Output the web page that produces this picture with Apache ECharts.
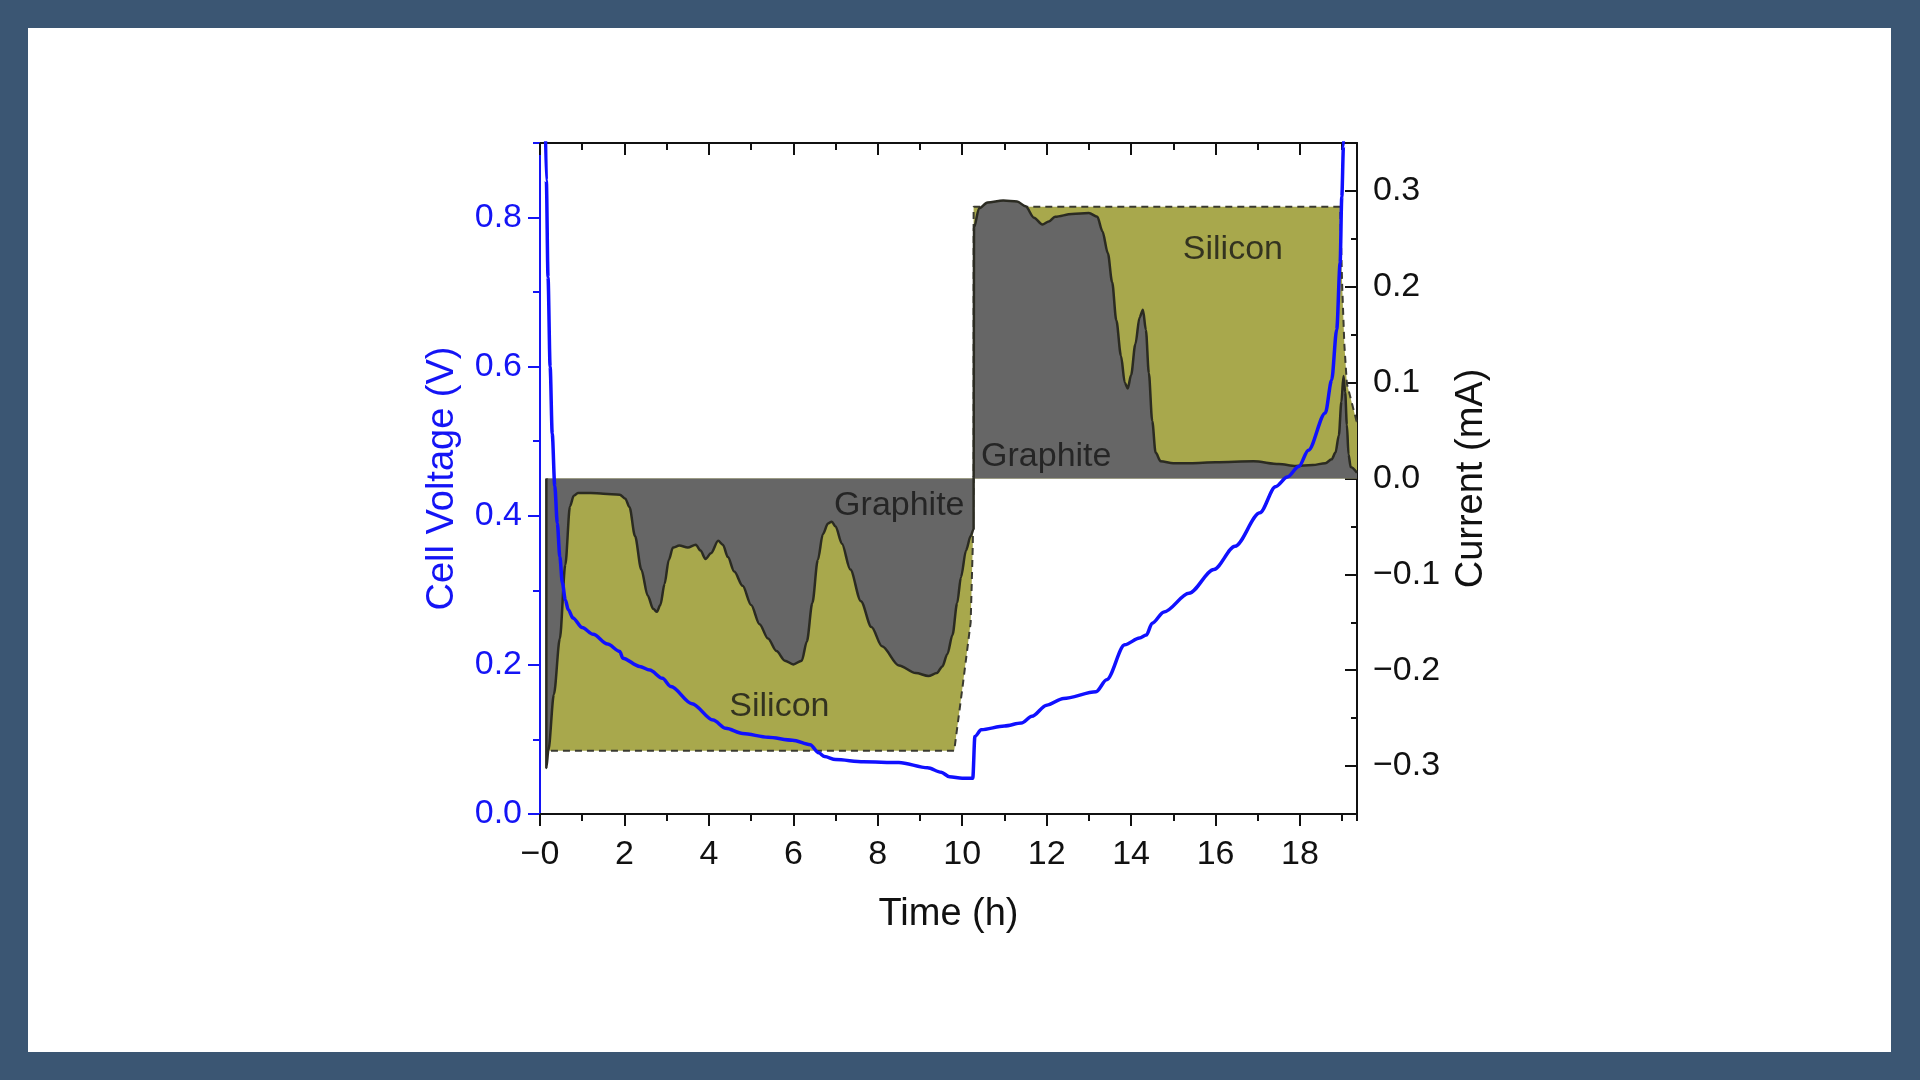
<!DOCTYPE html>
<html>
<head>
<meta charset="utf-8">
<title>Cell voltage and current</title>
<script src="https://cdn.jsdelivr.net/npm/echarts@6/dist/echarts.min.js"></script>
<style>
  html, body { margin: 0; padding: 0; background: #3b5673; }
  #panel { position: absolute; left: 28px; top: 28px; width: 1863px; height: 1024px; background: #fff; }
  #main { position: absolute; left: 0; top: 0; width: 1920px; height: 1080px; }
</style>
</head>
<body>
<div id="panel"></div>
<div id="main"></div>
<script>
// cell voltage, [time (h), V]
const voltage = [
  [0.12, 0.95], [0.15, 0.85], [0.19, 0.72], [0.24, 0.6], [0.29, 0.51], [0.35, 0.44],
  [0.41, 0.39], [0.47, 0.345], [0.53, 0.31], [0.6, 0.287], [0.67, 0.274], [0.78, 0.263],
  [1.0, 0.25], [1.26, 0.241], [1.6, 0.228], [1.89, 0.218], [1.96, 0.209], [2.36, 0.198],
  [2.6, 0.193], [2.9, 0.182], [3.1, 0.171], [3.6, 0.148], [4.1, 0.126], [4.4, 0.115],
  [4.8, 0.108], [5.4, 0.103], [5.98, 0.099], [6.4, 0.093], [6.6, 0.082], [6.74, 0.077],
  [7.0, 0.073], [7.66, 0.070], [8.5, 0.069], [9.18, 0.062], [9.5, 0.056], [9.7, 0.050],
  [10.0, 0.048], [10.25, 0.048], [10.3, 0.104], [10.45, 0.113], [11.0, 0.118], [11.4, 0.122],
  [11.65, 0.131], [12.0, 0.146], [12.4, 0.155], [13.17, 0.164], [13.42, 0.18], [13.85, 0.227],
  [14.2, 0.236], [14.36, 0.24], [14.5, 0.256], [14.78, 0.271], [15.37, 0.296], [15.96, 0.328],
  [16.46, 0.359], [17.05, 0.404], [17.42, 0.439], [17.7, 0.452], [17.97, 0.466], [18.2, 0.488],
  [18.6, 0.538], [18.75, 0.582], [18.87, 0.65], [18.95, 0.739], [18.99, 0.828], [19.03, 0.896],
  [19.05, 0.93]
]

// total current (dashed outline), [time (h), mA]
const totalCurrent = [
  [0.17, 0], [0.17, -0.284], [9.81, -0.284], [10.0, -0.22], [10.2, -0.15], [10.25, -0.07],
  [10.27, 0], [10.27, 0.2835], [18.95, 0.2835], [19.0, 0.2], [19.05, 0.14], [19.11, 0.099],
  [19.35, 0.058]
]

// graphite share of the current, [time (h), mA]
const graphiteCurrent = [
  [0.15, 0], [0.15, -0.302], [0.2, -0.283], [0.33, -0.225], [0.47, -0.167], [0.6, -0.09],
  [0.71, -0.029], [0.8, -0.018], [0.9, -0.015], [1.2, -0.015], [1.5, -0.016], [1.89, -0.017],
  [2.02, -0.021], [2.12, -0.03], [2.25, -0.06], [2.4, -0.095], [2.55, -0.122], [2.68, -0.136],
  [2.77, -0.139], [2.85, -0.132], [2.95, -0.11], [3.05, -0.085], [3.15, -0.072], [3.3, -0.07],
  [3.5, -0.072], [3.69, -0.069], [3.8, -0.075], [3.92, -0.084], [4.05, -0.078], [4.22, -0.065],
  [4.33, -0.069], [4.45, -0.082], [4.6, -0.097], [4.8, -0.112], [5.0, -0.132], [5.2, -0.152],
  [5.4, -0.167], [5.6, -0.18], [5.8, -0.19], [6.0, -0.194], [6.2, -0.19], [6.32, -0.17],
  [6.45, -0.13], [6.58, -0.085], [6.7, -0.058], [6.82, -0.047], [6.91, -0.045], [7.0, -0.05],
  [7.15, -0.068], [7.35, -0.095], [7.6, -0.128], [7.85, -0.155], [8.1, -0.175], [8.5, -0.195],
  [8.9, -0.203], [9.2, -0.206], [9.4, -0.203], [9.53, -0.196], [9.65, -0.183], [9.77, -0.163],
  [9.88, -0.13], [9.97, -0.103], [10.09, -0.075], [10.2, -0.06], [10.27, -0.053], [10.27, 0],
  [10.28, 0.262], [10.4, 0.282], [10.6, 0.288], [10.97, 0.290], [11.3, 0.289], [11.5, 0.284],
  [11.7, 0.272], [11.9, 0.265], [12.05, 0.268], [12.2, 0.273], [12.6, 0.276], [13.0, 0.277],
  [13.2, 0.273], [13.32, 0.258], [13.45, 0.235], [13.55, 0.205], [13.65, 0.165], [13.76, 0.128],
  [13.85, 0.1], [13.92, 0.094], [14.0, 0.108], [14.1, 0.14], [14.2, 0.168], [14.28, 0.176],
  [14.35, 0.155], [14.42, 0.11], [14.5, 0.06], [14.58, 0.027], [14.7, 0.018], [15.0, 0.016],
  [15.4, 0.016], [16.0, 0.017], [16.9, 0.018], [17.5, 0.015], [17.9, 0.013], [18.3, 0.014],
  [18.6, 0.016], [18.75, 0.02], [18.84, 0.027], [18.92, 0.045], [18.98, 0.08], [19.03, 0.107],
  [19.07, 0.09], [19.11, 0.056], [19.15, 0.025], [19.2, 0.012], [19.35, 0.006]
]

// region names, [time (h), mA, text]
const regionLabels = [
  [8.51, -0.028, 'Graphite'],
  [5.67, -0.238, 'Silicon'],
  [11.99, 0.023, 'Graphite'],
  [16.41, 0.239, 'Silicon']
]

const xTicks = [0, 2, 4, 6, 8, 10, 12, 14, 16, 18]
const xTickLabels = ['\u22120', '2', '4', '6', '8', '10', '12', '14', '16', '18']
const voltTicks = [0, 0.2, 0.4, 0.6, 0.8]
const currentTicks = [-0.3, -0.2, -0.1, 0, 0.1, 0.2, 0.3]

const font = 'Liberation Sans, Arial, sans-serif'
const blue = '#1414f5'
const black = '#111'

function tickStyle(color) {
  return { color: color, width: 2 }
}

const chart = echarts.init(document.getElementById('main'))

const option = {
  animation: false,
  textStyle: { fontFamily: font },
  grid: { left: 540, top: 143, width: 817, height: 671 },
  xAxis: [
    {
      type: 'value', position: 'bottom', min: 0, max: 19.35,
      axisLine: { show: true, onZero: false, lineStyle: tickStyle(black) },
      axisTick: { customValues: xTicks, length: 12, lineStyle: tickStyle(black) },
      axisLabel: {
        customValues: xTicks, fontSize: 34, color: black, margin: 24, fontFamily: font,
        formatter: function (v) { return xTickLabels[xTicks.indexOf(v)] }
      },
      splitLine: { show: false },
      name: 'Time (h)', nameLocation: 'middle', nameGap: 82,
      nameTextStyle: { fontSize: 38, color: black, fontFamily: font }
    },
    {
      type: 'value', position: 'bottom', min: 0, max: 19.35, interval: 1,
      axisLine: { show: false, onZero: false },
      axisTick: { length: 7, lineStyle: tickStyle(black) },
      axisLabel: { show: false }, splitLine: { show: false }
    },
    {
      type: 'value', position: 'top', min: 0, max: 19.35,
      axisLine: { show: true, onZero: false, lineStyle: tickStyle(black) },
      axisTick: { customValues: xTicks, inside: true, length: 12, lineStyle: tickStyle(black) },
      axisLabel: { show: false }, splitLine: { show: false }
    },
    {
      type: 'value', position: 'top', min: 0, max: 19.35, interval: 1,
      axisLine: { show: false, onZero: false },
      axisTick: { inside: true, length: 7, lineStyle: tickStyle(black) },
      axisLabel: { show: false }, splitLine: { show: false }
    }
  ],
  yAxis: [
    {
      type: 'value', position: 'left', min: 0, max: 0.9,
      axisLine: { show: true, onZero: false, lineStyle: tickStyle(blue) },
      axisTick: { customValues: voltTicks, length: 12, lineStyle: tickStyle(blue) },
      axisLabel: {
        customValues: voltTicks, fontSize: 34, color: blue, margin: 18, fontFamily: font,
        formatter: function (v) { return v.toFixed(1) }
      },
      splitLine: { show: false },
      name: 'Cell Voltage (V)', nameLocation: 'middle', nameGap: 78, nameRotate: 90,
      nameTextStyle: { fontSize: 38, color: blue, fontFamily: font }
    },
    {
      type: 'value', position: 'left', min: 0, max: 0.9, interval: 0.1,
      axisLine: { show: false, onZero: false },
      axisTick: { length: 7, lineStyle: tickStyle(blue) },
      axisLabel: { show: false }, splitLine: { show: false }
    },
    {
      type: 'value', position: 'right', min: -0.35, max: 0.35,
      axisLine: { show: true, onZero: false, lineStyle: tickStyle(black) },
      axisTick: { customValues: currentTicks, inside: true, length: 12, lineStyle: tickStyle(black) },
      axisLabel: {
        customValues: currentTicks, fontSize: 34, color: black, margin: 16, fontFamily: font,
        formatter: function (v) { return v.toFixed(1).replace('-', '\u2212') }
      },
      splitLine: { show: false },
      name: 'Current (mA)', nameLocation: 'middle', nameGap: 96, nameRotate: 90,
      nameTextStyle: { fontSize: 38, color: black, fontFamily: font }
    },
    {
      type: 'value', position: 'right', min: -0.35, max: 0.35, interval: 0.05,
      axisLine: { show: false, onZero: false },
      axisTick: { inside: true, length: 6, lineStyle: tickStyle(black) },
      axisLabel: { show: false }, splitLine: { show: false }
    }
  ],
  series: [
    {
      name: 'Silicon', type: 'line', xAxisIndex: 0, yAxisIndex: 2, data: totalCurrent,
      symbol: 'none', z: 1,
      lineStyle: { color: '#3a3a30', width: 2, type: [7, 5] },
      areaStyle: { color: '#a8a84c', opacity: 1 }
    },
    {
      name: 'Graphite', type: 'line', xAxisIndex: 0, yAxisIndex: 2, data: graphiteCurrent,
      symbol: 'none', z: 2, smooth: 0.3, smoothMonotone: 'x',
      lineStyle: { color: '#2b2b22', width: 2.5 },
      areaStyle: { color: '#666666', opacity: 1 }
    },
    {
      name: 'labels', type: 'scatter', xAxisIndex: 0, yAxisIndex: 2, data: regionLabels,
      symbolSize: 0, z: 3, silent: true,
      label: {
        show: true, position: 'inside', fontSize: 34, color: '#151515', fontFamily: font,
        formatter: function (p) { return p.value[2] }
      }
    },
    {
      name: 'Voltage', type: 'line', xAxisIndex: 0, yAxisIndex: 0, data: voltage,
      symbol: 'none', z: 4, smooth: 0.3, smoothMonotone: 'x',
      lineStyle: { color: '#1010ff', width: 3.5 }
    }
  ]
}

chart.setOption(option)
</script>
</body>
</html>
